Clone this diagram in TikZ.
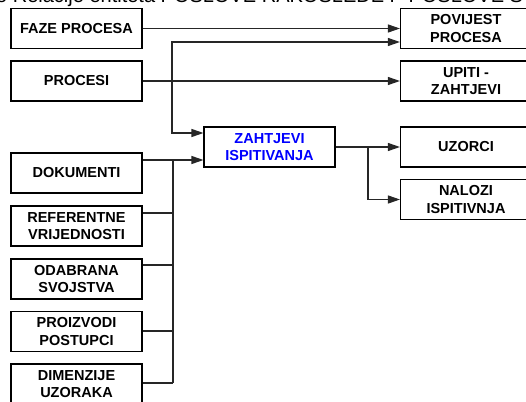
\documentclass[tikz,border=0pt]{standalone}
\usepackage{fontspec}
\setmainfont{Liberation Sans}
\usetikzlibrary{arrows.meta}
\begin{document}
\begin{tikzpicture}[x=1pt,y=-1pt,
  box/.style={draw=black,line width=1.1pt,fill=white,minimum width=131pt,minimum height=40pt,inner sep=0pt,align=center,
    font=\fontsize{14.5}{17.5}\selectfont\bfseries},
  wire/.style={draw=black!85,line width=1.1pt},
  arr/.style={wire,-{Triangle[length=12pt,width=8pt]}}]
\useasboundingbox (0,0) rectangle (526,401);
\clip (0,0) rectangle (526,401);
\node[anchor=base west,inner sep=0pt,font=\fontsize{20}{22}\selectfont] (title) at (-4,3) {o Relacije entiteta POSLOVE RAKOSLEDE P POSLOVE S};
% left column
\node[box] (faze) at (76.5,28.5) {FAZE PROCESA};
\node[box] (procesi) at (76.5,81) {PROCESI};
\node[box] (dok) at (76.5,173) {DOKUMENTI};
\node[box] (ref) at (76.5,226) {REFERENTNE\\VRIJEDNOSTI};
\node[box] (oda) at (76.5,279) {ODABRANA\\SVOJSTVA};
\node[box] (pro) at (76.5,331.5) {PROIZVODI\\POSTUPCI};
\node[box] (dim) at (76.5,384) {DIMENZIJE\\UZORAKA};
% middle
\node[box,text=blue] (zah) at (269.5,147) {ZAHTJEVI\\ISPITIVANJA};
% right column
\node[box] (pov) at (466,28.5) {POVIJEST\\PROCESA};
\node[box] (upi) at (466,81) {UPITI -\\ZAHTJEVI};
\node[box] (uzo) at (466,147) {UZORCI};
\node[box] (nal) at (466,199.5) {NALOZI\\ISPITIVNJA};
% junctions
\coordinate (jp) at (172,81);
\coordinate (bt) at (173,160);
\coordinate (bb) at (173,383);
\coordinate (jz) at (368,147);
% connectors
\draw[arr] (faze.east) -- (faze.east -| pov.west);
\draw[arr] (procesi.east) -- (procesi.east -| upi.west);
\draw[arr] (jp) |- (pov.west |- 0,42);
\draw[arr] (jp) |- (zah.west |- 0,133);
\draw[wire] (dok.east |- bt) -- (bt);
\draw[wire] (ref.east |- 0,213) -- (bt |- 0,213);
\draw[wire] (oda.east |- 0,265) -- (bt |- 0,265);
\draw[wire] (pro.east |- 0,331) -- (bt |- 0,331);
\draw[wire] (dim.east |- bb) -- (bb);
\draw[wire,line width=1.5pt] (bt) -- (bb);
\draw[arr] (bt) -- (bt -| zah.west);
\draw[arr] (zah.east) -- (uzo.west);
\draw[arr] (jz) |- (nal.west);
\end{tikzpicture}
\end{document}
